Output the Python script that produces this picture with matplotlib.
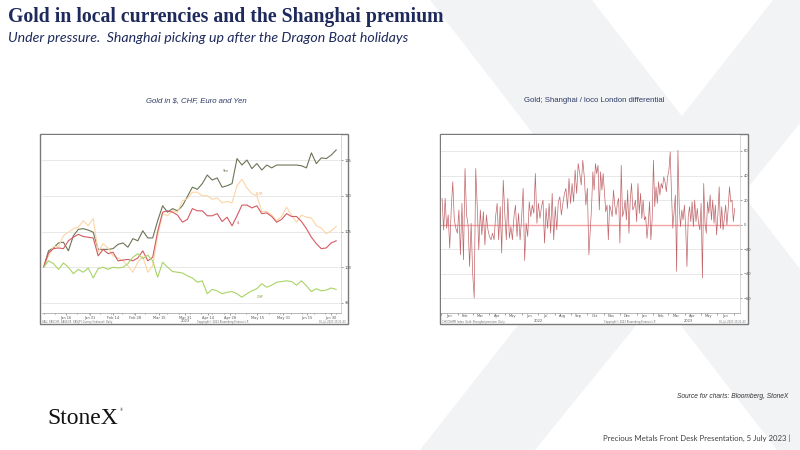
import matplotlib
matplotlib.use('Agg')
from matplotlib import pyplot as plt
from matplotlib.patches import Polygon, Rectangle
import matplotlib.dates as mdates
import pandas as pd

# gold indexed to 100 on 2 Jan 2023
yen = [100.0, 102.3, 102.7, 103.4, 103.5, 102.3, 104.4, 105.3, 105.4, 105.2,
       104.9, 102.5, 102.5, 102.5, 102.6, 103.2, 103.4, 102.8, 104.0, 103.7,
       105.1, 104.1, 104.1, 106.5, 108.6, 107.7, 108.2, 107.9, 108.6, 109.9,
       111.2, 110.9, 111.7, 112.9, 112.2, 112.5, 111.2, 111.4, 111.7, 115.2,
       114.3, 115.0, 113.8, 114.5, 113.6, 114.3, 113.9, 114.3, 114.3, 114.3,
       114.3, 114.3, 114.2, 113.9, 116.0, 114.5, 115.3, 115.2, 115.7, 116.4]
usd = [100.0, 102.0, 102.6, 102.7, 102.6, 103.7, 104.2, 104.6, 104.3, 104.2,
       104.1, 101.6, 102.5, 101.9, 102.1, 100.9, 101.0, 101.1, 100.9, 101.3,
       102.3, 100.9, 101.4, 105.0, 107.7, 107.9, 107.7, 107.3, 106.3, 106.7,
       108.2, 107.9, 107.9, 107.2, 107.2, 107.5, 106.4, 107.0, 105.8, 107.2,
       108.7, 108.7, 108.3, 108.6, 107.5, 107.6, 107.1, 106.3, 106.7, 107.5,
       107.1, 107.1, 106.4, 105.4, 104.2, 103.3, 102.6, 102.7, 103.4, 103.7]
eur = [100.0, 101.6, 102.9, 102.9, 104.4, 104.9, 105.4, 105.6, 106.5, 105.8,
       106.8, 102.1, 103.3, 102.7, 101.6, 101.3, 100.9, 100.2, 99.3, 100.7,
       101.5, 99.3, 100.2, 104.4, 107.5, 107.2, 107.9, 107.7, 109.3, 109.6,
       110.5, 110.5, 110.0, 110.0, 109.5, 109.7, 109.0, 109.2, 109.0, 111.4,
       112.3, 111.1, 110.3, 110.0, 107.8, 107.8, 107.3, 106.5, 107.1, 108.4,
       107.3, 106.3, 107.3, 107.0, 106.9, 105.8, 105.5, 104.7, 105.1, 105.7]
chf = [100.0, 100.9, 100.5, 99.7, 100.6, 100.0, 99.1, 99.7, 99.3, 99.9,
       98.5, 99.8, 100.0, 99.7, 100.0, 99.9, 100.0, 100.5, 101.4, 101.9,
       101.2, 101.7, 100.9, 98.6, 100.7, 100.0, 99.4, 99.3, 99.2, 98.8,
       98.5, 97.9, 98.1, 96.3, 96.9, 96.7, 96.3, 96.5, 96.6, 96.3,
       95.8, 96.3, 96.7, 97.0, 97.7, 97.2, 97.5, 97.9, 98.0, 98.1,
       98.0, 97.5, 98.1, 97.4, 96.6, 97.0, 96.7, 96.8, 97.1, 96.9]

# Shanghai premium over loco London, $/oz
prem_a = [21.4, -4.3, 21.4, -3.0, 7.8, -19.2, 13.2, 34.9, 3.8, -3.0,
          -7.0, 11.9, -24.6, 17.3, -28.6, 45.7, 7.8, -0.3, -34.1, 1.1,
          -39.5, -59.7, 45.7, 14.6, -20.5, 11.9, -8.4, 10.5, -16.5, 7.8,
          -4.3, -9.7, -12.4, -7.0, -12.4, 6.5, 17.3, -12.4, 14.6, -23.2,
          36.2, 9.2, -12.4, 21.4, -11.1, -1.6, -12.4, 6.5, 15.9, -9.7,
          9.2, -12.4, 5.1, 29.5, -29.2, 1.1, -9.7, 18.6, 6.5, 15.9,
          9.2, 41.6, 1.1, 17.3, 5.1, 14.6, 20.0, -15.1, 13.2, -3.0,
          17.3, -7.0, 25.4, -12.4, 14.6, -4.3, 18.6, 22.7, 7.8, 17.3,
          25.4, 29.5, 13.2, 37.6, 17.3, 33.5, 18.6, 44.3, 25.4, 49.7,
          41.6, 32.2, 52.4, 38.9, 15.9, 29.5, -24.6]
prem_b = [14.6, 43.0, 28.1, 49.7, 41.6, 48.4, 11.9, 43.0, 28.1, 41.6,
          25.4, 10.5, 15.9, -12.4, 15.9, 11.9, 6.5, 28.1, 15.9, 7.8,
          17.3, 21.4, -15.1, 48.4, 6.5, 10.5, 20.0, 3.8, 28.1, -7.0,
          20.0, 33.5, 11.9, 14.6, 20.0, 2.4, 33.5, 9.2, 25.4, 5.1,
          20.0, 3.8, 6.5, -11.1, 1.1, 18.6, -12.4, 3.8, 52.4, 14.6,
          30.8, 17.3, 34.9, 24.1, 33.5, 29.5, 38.9, 34.9, 26.8, 38.9,
          44.3, 59.2, 25.4, -3.0, 10.5, 24.1, -38.1, 60.5, 14.6, -1.6,
          11.9, 3.8, 15.9, -1.6, -34.1, 6.5, 14.6, 2.4, 18.6, -1.6,
          20.0, 2.4, 13.2, 1.1, -4.3, 17.3, -43.5, 33.5, 1.1, -7.0,
          18.6, 9.2, 24.1, 3.8, 20.0, 1.1, 15.9, -8.4, 7.8, 30.8,
          -3.0, 14.6, -4.3, 5.1, 15.9, -0.3, 13.2, 30.8, 18.6, 20.0,
          2.4, 13.2]

gold_ticks = ['2023-01-16', '2023-01-31', '2023-02-14', '2023-02-28', '2023-03-15', '2023-03-31',
              '2023-04-14', '2023-04-28', '2023-05-15', '2023-05-31', '2023-06-15', '2023-06-30']
gold_tick_labels = ['Jan 16', 'Jan 31', 'Feb 14', 'Feb 28', 'Mar 15', 'Mar 31',
                    'Apr 14', 'Apr 28', 'May 15', 'May 31', 'Jun 15', 'Jun 30']

navy = '#1f2a5c'
W, H = 800, 450


def fx(x):
    return x / W


def fy(y):
    return 1 - y / H


fig = plt.figure(figsize=(8, 4.5), dpi=100)
fig.patch.set_facecolor('white')

# big pale X watermark in the background
wm = '#f2f3f5'
for pts in ([(430, 0), (592, 0), (940, 450), (777, 450)],
            [(773, 0), (900, 0), (535, 450), (420, 450)]):
    fig.patches.append(Polygon([(fx(a), fy(b)) for a, b in pts], closed=True,
                               transform=fig.transFigure, facecolor=wm, edgecolor='none', zorder=0))

# chart boxes
for x0 in (40, 440):
    fig.patches.append(Rectangle((fx(x0), fy(324)), fx(308), 190 / H, transform=fig.transFigure,
                                 facecolor='white', edgecolor='#7a7a7a', lw=1.0, zorder=1))

fig.text(fx(8), fy(17), 'Gold in local currencies and the Shanghai premium', family='Liberation Serif',
         weight='bold', fontsize=14.2, color=navy, va='center')
fig.text(fx(8), fy(38), 'Under pressure.  Shanghai picking up after the Dragon Boat holidays', family='Lato',
         style='italic', fontsize=10.2, color=navy, va='center')
fig.text(fx(196), fy(101), 'Gold in $, CHF, Euro and Yen', family='Liberation Sans', style='italic',
         fontsize=5.6, color='#2e3a66', ha='center', va='center')
fig.text(fx(594), fy(101), 'Gold; Shanghai / loco London differential', family='Liberation Sans',
         fontsize=5.6, color='#2e3a66', ha='center', va='center')
fig.text(fx(788), fy(397), 'Source for charts: Bloomberg, StoneX', family='Liberation Sans', style='italic',
         fontsize=4.8, color='#333333', ha='right', va='center')
fig.text(fx(47), fy(418), 'StoneX', family='Liberation Serif', fontsize=17, color='#111111', va='center')
fig.text(fx(120), fy(410), '\u00ae', family='Liberation Serif', fontsize=3, color='#111111', va='center')
fig.text(fx(790), fy(438), 'Precious Metals Front Desk Presentation, 5 July 2023 |', family='Lato',
         fontsize=5.6, color='#404040', ha='right', va='center')

tick_kw = dict(labelsize=2.6, colors='#555555', length=1.5, width=0.4)

# ---- left chart: gold in currencies
ax1 = fig.add_axes([fx(42), fy(313), fx(299), 178 / H], zorder=2)
gdates = pd.date_range('2023-01-02', '2023-07-03', periods=len(yen))
ax1.plot(gdates, yen, color='#6c7456', lw=0.8)
ax1.plot(gdates, eur, color='#fdd5a4', lw=0.8)
ax1.plot(gdates, usd, color='#d45a64', lw=0.8)
ax1.plot(gdates, chf, color='#a9d465', lw=0.8)
ax1.text(pd.Timestamp('2023-04-25'), 113.5, 'Yen', fontsize=2.6, color='#6c7456', ha='center', va='center')
ax1.text(pd.Timestamp('2023-05-16'), 110.3, 'EUR', fontsize=2.6, color='#f0b070', ha='center', va='center')
ax1.text(pd.Timestamp('2023-05-03'), 106.3, '$', fontsize=2.6, color='#c0404a', ha='center', va='center')
ax1.text(pd.Timestamp('2023-05-17'), 95.8, 'CHF', fontsize=2.6, color='#7aa040', ha='center', va='center')
ax1.set_xlim(pd.Timestamp('2023-01-01'), pd.Timestamp('2023-07-06'))
ax1.set_ylim(93.6, 118.5)
ax1.set_xticks(pd.to_datetime(gold_ticks), gold_tick_labels)
ax1.xaxis.set_minor_locator(mdates.WeekdayLocator(byweekday=0))
ax1.set_yticks([95, 100, 105, 110, 115])
ax1.text(pd.Timestamp('2023-03-31'), -0.032, '2023', transform=ax1.get_xaxis_transform(),
         fontsize=2.6, color='#555555', ha='center', va='top')

# ---- right chart: Shanghai premium
ax2 = fig.add_axes([fx(441), fy(313), fx(299), 178 / H], zorder=2)
pdates = pd.date_range('2022-01-03', '2022-10-04', periods=len(prem_a)).append(
    pd.date_range('2022-10-09', '2023-07-03', periods=len(prem_b)))
ax2.axhline(0, color='#f5a3a3', lw=1.0, zorder=1)
ax2.plot(pdates, prem_a + prem_b, color='#c0666b', lw=0.5, zorder=2)
ax2.set_xlim(pd.Timestamp('2022-01-01'), pd.Timestamp('2023-07-13'))
ax2.set_ylim(-72, 73)
ax2.set_yticks([-60, -40, -20, 0, 20, 40, 60])
ax2.xaxis.set_major_locator(mdates.MonthLocator())
ax2.xaxis.set_major_formatter(plt.NullFormatter())
ax2.xaxis.set_minor_locator(mdates.MonthLocator(bymonthday=15))
ax2.xaxis.set_minor_formatter(mdates.DateFormatter('%b'))
ax2.text(pd.Timestamp('2022-07-01'), -0.032, '2022', transform=ax2.get_xaxis_transform(),
         fontsize=2.6, color='#555555', ha='center', va='top')
ax2.text(pd.Timestamp('2023-04-07'), -0.032, '2023', transform=ax2.get_xaxis_transform(),
         fontsize=2.6, color='#555555', ha='center', va='top')

for ax in (ax1, ax2):
    ax.set_facecolor('white')
    ax.yaxis.tick_right()
    ax.grid(axis='y', color='#e4e4e4', lw=0.6)
    ax.set_axisbelow(True)
    ax.tick_params(axis='both', which='both', **tick_kw)
    ax.tick_params(axis='x', which='minor', length=1)
    ax.tick_params(axis='x', which='both', pad=0.6)
    ax.tick_params(axis='y', pad=1)
    for s in ('top', 'left'):
        ax.spines[s].set_visible(False)
    ax.spines['right'].set_color('#c8c8c8')
    ax.spines['bottom'].set_color('#9a9a9a')
    ax.spines['right'].set_linewidth(0.5)
    ax.spines['bottom'].set_linewidth(0.5)
ax2.tick_params(axis='x', which='minor', length=0)

# tiny Bloomberg footers inside the boxes
for x0, mid, left_txt in ((40, 183, 'XAU, XAUCHF, XAUEUR, XAUJPY Curncy (Indexed)  Daily'),
                          (440, 190, 'CHGOSHPR Index  Gold: Shanghai premium  Daily')):
    fig.text(fx(x0 + 2), fy(322.3), left_txt, fontsize=1.8, color='#666666', va='center', zorder=3)
    fig.text(fx(x0 + mid), fy(322.3), 'Copyright\u00a9 2023 Bloomberg Finance L.P.', fontsize=1.8,
             color='#666666', ha='center', va='center', zorder=3)
    fig.text(fx(x0 + 306), fy(322.3), '05-Jul-2023 10:21:43', fontsize=1.8, color='#666666',
             ha='right', va='center', zorder=3)

fig.savefig('out.png', dpi=100)
